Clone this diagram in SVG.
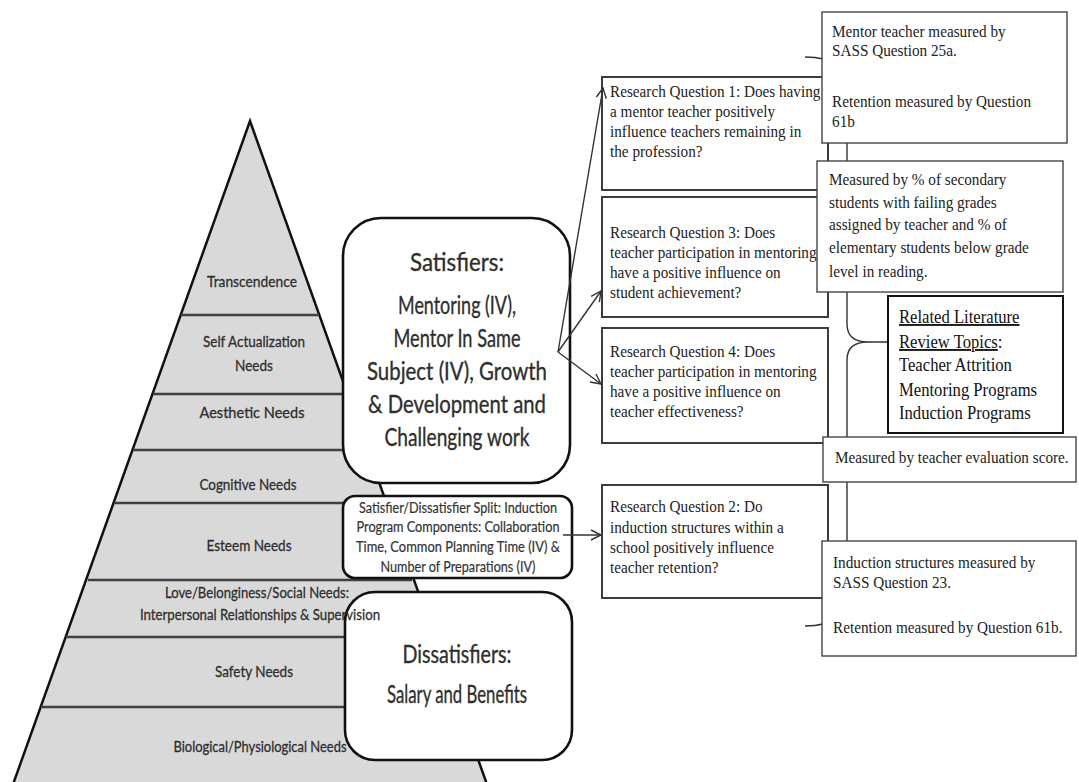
<svg xmlns="http://www.w3.org/2000/svg" width="1079" height="782" viewBox="0 0 1079 782">
<defs>
<style>
.band{stroke:#3f3f3f;stroke-width:2.5;fill:none}
.lbl{font-family:Lato,"Open Sans",sans-serif;font-size:16px;fill:#2e2e2e;stroke:#2e2e2e;stroke-width:0.3;text-anchor:middle}
.big{font-family:Lato,"Open Sans",sans-serif;font-size:25px;fill:#2e2e2e;stroke:#2e2e2e;stroke-width:0.35;text-anchor:middle}
.mid{font-family:Lato,"Open Sans",sans-serif;font-size:15.5px;fill:#333;stroke:#333;stroke-width:0.2;text-anchor:middle}
.rbox{fill:#fff;stroke:#111;stroke-width:2.6}
.qbox{fill:#fff;stroke:#3c3c3c;stroke-width:2}
.mbox{fill:#fff;stroke:#444;stroke-width:1.4}
.cbox{fill:#fff;stroke:#111;stroke-width:2}
.tx{font-family:"Liberation Serif","Times New Roman",serif;font-size:17.5px;fill:#222}
.tc{font-family:"Liberation Serif","Times New Roman",serif;font-size:18.5px;fill:#111}
.con{fill:none;stroke:#333;stroke-width:1.4}
</style>
<marker id="arr" viewBox="0 0 12 12" refX="11" refY="6" markerWidth="12" markerHeight="12" markerUnits="userSpaceOnUse" orient="auto">
<path d="M1,1 L11,6 L1,11" fill="none" stroke="#333" stroke-width="1.4"/>
</marker>
</defs>
<rect width="1079" height="782" fill="#fff"/>

<g id="pyramid">
<polygon points="250,121 489,790 11,790" fill="#d9d9d9" stroke="#111" stroke-width="2.5" stroke-linejoin="miter"/>
<line class="band" x1="181" y1="315" x2="319" y2="315"/>
<line class="band" x1="153" y1="394" x2="347" y2="394"/>
<line class="band" x1="133" y1="450" x2="367" y2="450"/>
<line class="band" x1="114" y1="503" x2="386" y2="503"/>
<line class="band" x1="88" y1="580" x2="412" y2="580"/>
<line class="band" x1="66" y1="637" x2="434" y2="637"/>
<line class="band" x1="41" y1="707" x2="459" y2="707"/>
</g>

<g id="satisfiers">
<rect class="rbox" x="343" y="218" width="227" height="265" rx="38"/>
<text class="big" x="457" y="271" textLength="94" lengthAdjust="spacingAndGlyphs">Satisfiers:</text>
<text class="big" x="457" y="314" textLength="118" lengthAdjust="spacingAndGlyphs">Mentoring (IV),</text>
<text class="big" x="457" y="347" textLength="127" lengthAdjust="spacingAndGlyphs">Mentor In Same</text>
<text class="big" x="457" y="380" textLength="180" lengthAdjust="spacingAndGlyphs">Subject (IV), Growth</text>
<text class="big" x="457" y="413" textLength="178" lengthAdjust="spacingAndGlyphs">&amp; Development and</text>
<text class="big" x="457" y="446" textLength="145" lengthAdjust="spacingAndGlyphs">Challenging work</text>
</g>

<g id="split">
<rect class="rbox" x="343" y="496" width="229" height="82" rx="12"/>
<text class="mid" x="458" y="513" textLength="198" lengthAdjust="spacingAndGlyphs">Satisfier/Dissatisfier Split: Induction</text>
<text class="mid" x="458" y="532" textLength="203" lengthAdjust="spacingAndGlyphs">Program Components: Collaboration</text>
<text class="mid" x="458" y="552" textLength="204" lengthAdjust="spacingAndGlyphs">Time, Common Planning Time (IV) &amp;</text>
<text class="mid" x="458" y="572" textLength="155" lengthAdjust="spacingAndGlyphs">Number of Preparations (IV)</text>
</g>

<g id="dissatisfiers">
<rect class="rbox" x="345" y="592" width="227" height="168" rx="30"/>
<text class="big" x="457" y="663" textLength="109" lengthAdjust="spacingAndGlyphs">Dissatisfiers:</text>
<text class="big" x="457" y="703" textLength="140" lengthAdjust="spacingAndGlyphs">Salary and Benefits</text>
</g>

<g id="pyramid-labels">
<text class="lbl" x="252" y="287" textLength="90" lengthAdjust="spacingAndGlyphs">Transcendence</text>
<text class="lbl" x="254" y="347" textLength="102" lengthAdjust="spacingAndGlyphs">Self Actualization</text>
<text class="lbl" x="254" y="371" textLength="38" lengthAdjust="spacingAndGlyphs">Needs</text>
<text class="lbl" x="252" y="418" textLength="105" lengthAdjust="spacingAndGlyphs">Aesthetic Needs</text>
<text class="lbl" x="248" y="490" textLength="97" lengthAdjust="spacingAndGlyphs">Cognitive Needs</text>
<text class="lbl" x="249" y="551" textLength="85" lengthAdjust="spacingAndGlyphs">Esteem Needs</text>
<text class="lbl" x="257" y="598" textLength="184" lengthAdjust="spacingAndGlyphs">Love/Belonginess/Social Needs:</text>
<text class="lbl" x="260" y="620" textLength="240" lengthAdjust="spacingAndGlyphs">Interpersonal Relationships &amp; Supervision</text>
<text class="lbl" x="254" y="677" textLength="78" lengthAdjust="spacingAndGlyphs">Safety Needs</text>
<text class="lbl" x="260" y="752" textLength="173" lengthAdjust="spacingAndGlyphs">Biological/Physiological Needs</text>
</g>

<g id="rq1">
<rect class="qbox" x="602" y="77" width="226" height="113"/>
<g transform="matrix(0.87,0,0,1,79.3,0)">
<text class="tx" x="610" y="97">Research Question 1: Does having</text>
<text class="tx" x="610" y="117">a mentor teacher positively</text>
<text class="tx" x="610" y="137">influence teachers remaining in</text>
<text class="tx" x="610" y="157">the profession?</text>
</g>
</g>

<g id="rq3">
<rect class="qbox" x="602" y="197" width="226" height="120"/>
<g transform="matrix(0.87,0,0,1,79.3,0)">
<text class="tx" x="610" y="238">Research Question 3: Does</text>
<text class="tx" x="610" y="258">teacher participation in mentoring</text>
<text class="tx" x="610" y="278">have a positive influence on</text>
<text class="tx" x="610" y="298">student achievement?</text>
</g>
</g>

<g id="rq4">
<rect class="qbox" x="602" y="328" width="226" height="115"/>
<g transform="matrix(0.87,0,0,1,79.3,0)">
<text class="tx" x="610" y="357">Research Question 4: Does</text>
<text class="tx" x="610" y="377">teacher participation in mentoring</text>
<text class="tx" x="610" y="397">have a positive influence on</text>
<text class="tx" x="610" y="417">teacher effectiveness?</text>
</g>
</g>

<g id="rq2">
<rect class="qbox" x="602" y="485" width="226" height="113"/>
<g transform="matrix(0.87,0,0,1,79.3,0)">
<text class="tx" x="610" y="512">Research Question 2: Do</text>
<text class="tx" x="610" y="533">induction structures within a</text>
<text class="tx" x="610" y="553">school positively influence</text>
<text class="tx" x="610" y="573">teacher retention?</text>
</g>
</g>

<g id="connectors">
<path class="con" d="M558,352 L603,88" marker-end="url(#arr)"/>
<path class="con" d="M558,352 L601,291" marker-end="url(#arr)"/>
<path class="con" d="M558,352 L601,384" marker-end="url(#arr)"/>
<path class="con" d="M563,535 L601,535" marker-end="url(#arr)"/>
<path class="con" d="M805,57 Q847,57 847,90 L847,324 Q847,342 868,342 L888,342 M868,342 Q847,342 847,360 L847,594 Q847,626 805,626"/>
</g>

<g id="mentor-measure">
<rect class="mbox" x="822" y="12" width="245" height="131"/>
<g transform="matrix(0.87,0,0,1,108.2,0)">
<text class="tx" x="832" y="37">Mentor teacher measured by</text>
<text class="tx" x="832" y="56">SASS Question 25a.</text>
<text class="tx" x="832" y="107">Retention measured by Question</text>
<text class="tx" x="832" y="127">61b</text>
</g>
</g>

<g id="achievement-measure">
<rect class="mbox" x="817" y="161" width="246" height="131"/>
<g transform="matrix(0.87,0,0,1,107.8,0)">
<text class="tx" x="829" y="185">Measured by % of secondary</text>
<text class="tx" x="829" y="208">students with failing grades</text>
<text class="tx" x="829" y="230">assigned by teacher and % of</text>
<text class="tx" x="829" y="253">elementary students below grade</text>
<text class="tx" x="829" y="277">level in reading.</text>
</g>
</g>

<g id="literature">
<rect class="cbox" x="888" y="296" width="175" height="137"/>
<g transform="matrix(0.9,0,0,1,89.9,0)">
<text class="tc" x="899" y="323" text-decoration="underline">Related Literature</text>
<text class="tc" x="899" y="348"><tspan text-decoration="underline">Review Topics</tspan>:</text>
<text class="tc" x="899" y="371">Teacher Attrition</text>
<text class="tc" x="899" y="396">Mentoring Programs</text>
<text class="tc" x="899" y="419">Induction Programs</text>
</g>
</g>

<g id="effectiveness-measure">
<rect class="mbox" x="823" y="437" width="253" height="45"/>
<g transform="matrix(0.87,0,0,1,108.6,0)">
<text class="tx" x="835" y="463">Measured by teacher evaluation  score.</text>
</g>
</g>

<g id="induction-measure">
<rect class="mbox" x="822" y="541" width="254" height="115"/>
<g transform="matrix(0.87,0,0,1,108.3,0)">
<text class="tx" x="833" y="568">Induction structures measured by</text>
<text class="tx" x="833" y="588">SASS Question 23.</text>
<text class="tx" x="833" y="633">Retention measured by Question 61b.</text>
</g>
</g>
</svg>
